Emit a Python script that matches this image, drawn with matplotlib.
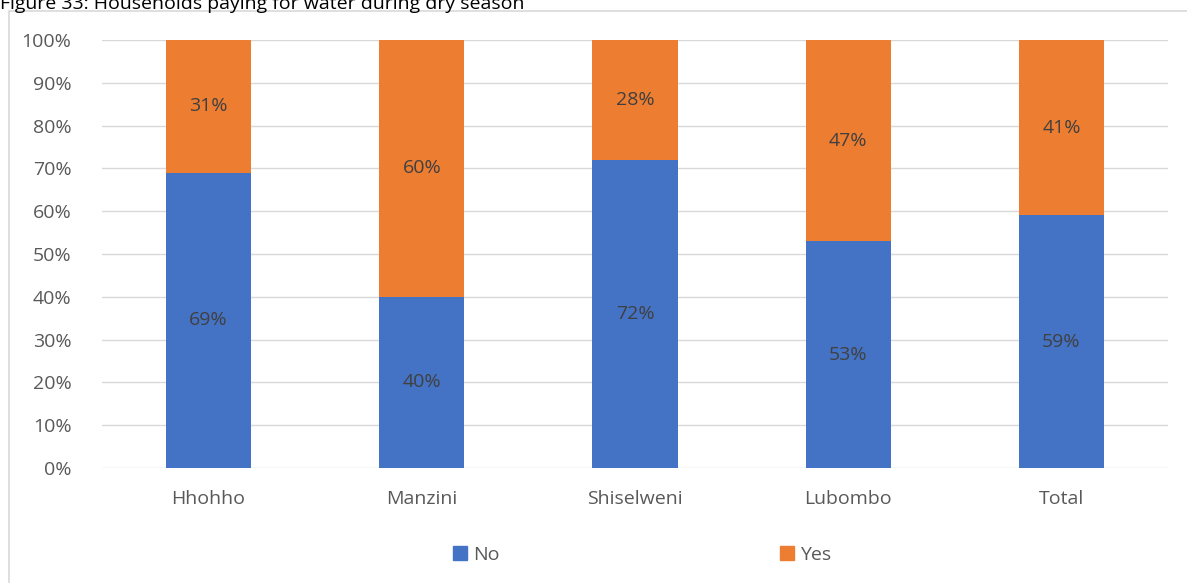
import numpy as np
import matplotlib.pyplot as plt
from matplotlib.patches import Rectangle

regions = ["Hhohho", "Manzini", "Shiselweni", "Lubombo", "Total"]
no_pct = [69, 40, 72, 53, 59]
yes_pct = [31, 60, 28, 47, 41]
title = "Figure 33: Households paying for water during dry season"

plt.rcParams['font.family'] = ['Open Sans', 'DejaVu Sans']

W, H = 1187, 583
fig = plt.figure(figsize=(W / 100, H / 100), dpi=100)

# outer chart border (continues past right/bottom edge)
fig.patches.append(Rectangle((9.5 / W, -0.1), 1.2, 1 - 11 / H + 0.1,
                             transform=fig.transFigure, fill=False,
                             edgecolor='#d9d9d9', linewidth=1.2))
fig.text(0.0, 1 - 9 / H, title, fontsize=14, color='black', va='baseline', ha='left')

ax = fig.add_axes([102 / W, 1 - 468 / H, (1168 - 102) / W, (468 - 40) / H])
x = np.arange(len(regions))
blue, orange = '#4472c4', '#ed7d31'
ax.bar(x, no_pct, width=0.4, color=blue, label='No', zorder=3)
ax.bar(x, yes_pct, width=0.4, bottom=no_pct, color=orange, label='Yes', zorder=3)

for i in range(len(regions)):
    ax.text(x[i], no_pct[i] / 2, f"{no_pct[i]}%", ha='center', va='center',
            fontsize=14, color='#404040', zorder=4)
    ax.text(x[i], no_pct[i] + yes_pct[i] / 2, f"{yes_pct[i]}%", ha='center', va='center',
            fontsize=14, color='#404040', zorder=4)

ax.set_xlim(-0.5, len(regions) - 0.5)
ax.set_ylim(0, 100)
ax.set_yticks(np.arange(0, 101, 10))
ax.set_yticklabels([f"{v}%" for v in range(0, 101, 10)])
ax.set_xticks(x)
ax.set_xticklabels(regions)
ax.tick_params(axis='both', length=0, labelsize=14, labelcolor='#595959')
ax.tick_params(axis='y', pad=22)
ax.tick_params(axis='x', pad=16)
ax.grid(axis='y', color='#d9d9d9', linewidth=1, zorder=0)
for s in ax.spines.values():
    s.set_visible(False)

handles = [Rectangle((0, 0), 1, 1, color=blue), Rectangle((0, 0), 1, 1, color=orange)]
fig.legend(handles, ['No', 'Yes'], loc='center', bbox_to_anchor=(642 / W, 1 - 555 / H),
           ncol=2, frameon=False, fontsize=14, labelcolor='#595959',
           handlelength=0.72, handleheight=0.72, handletextpad=0.3, columnspacing=14.4)

fig.savefig('out.png', dpi=100)
